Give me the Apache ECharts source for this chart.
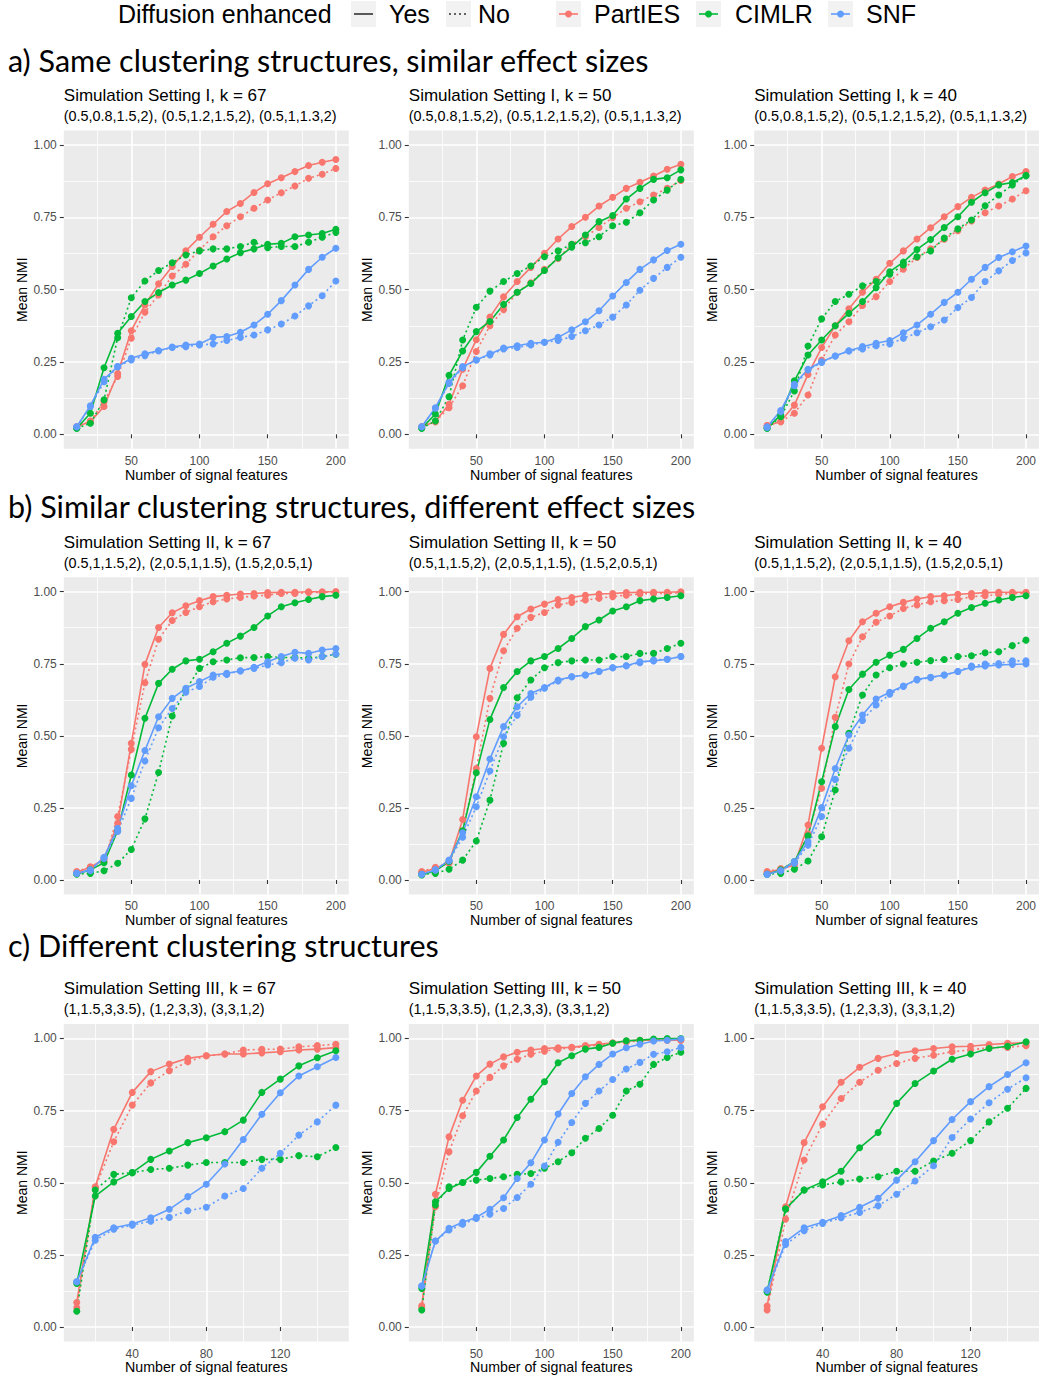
<!DOCTYPE html>
<html><head><meta charset="utf-8">
<script src="https://cdn.jsdelivr.net/npm/echarts@6/dist/echarts.min.js"></script>
<style>html,body{margin:0;padding:0;background:#fff}#c{width:1039px;height:1380px}</style>
</head><body><div id="c"></div>
<script>
// ---------- categories / ticks ----------
const xLong = [10,20,30,40,50,60,70,80,90,100,110,120,130,140,150,160,170,180,190,200];
const xShort = [10,20,30,40,50,60,70,80,90,100,110,120,130,140,150];
const xTicksLong = [50,100,150,200];
const xMinorLong = [25,75,125,175];
const xTicksShort = [40,80,120];
const xMinorShort = [20,60,100,140];
const yTicks = [0,0.25,0.5,0.75,1];
const yMinor = [0.125,0.375,0.625,0.875];
const methods = ['PartIES','CIMLR','SNF'];
const diffusion = ['Yes','No'];

// ---------- titles ----------
const sectionHeadings = ['a) Same clustering structures, similar effect sizes','b) Similar clustering structures, different effect sizes','c) Different clustering structures'];
const panelTitles = ['Simulation Setting I, k = 67','Simulation Setting I, k = 50','Simulation Setting I, k = 40',
  'Simulation Setting II, k = 67','Simulation Setting II, k = 50','Simulation Setting II, k = 40',
  'Simulation Setting III, k = 67','Simulation Setting III, k = 50','Simulation Setting III, k = 40'];
const rowSubtitles = ['(0.5,0.8,1.5,2), (0.5,1.2,1.5,2), (0.5,1,1.3,2)','(0.5,1,1.5,2), (2,0.5,1,1.5), (1.5,2,0.5,1)','(1,1.5,3,3.5), (1,2,3,3), (3,3,1,2)'];

// ---------- Panel 1: Setting I, k = 67 ----------
const p1_PartIES_Yes = [0.026,0.044,0.096,0.21,0.358,0.447,0.52,0.58,0.634,0.681,0.726,0.77,0.798,0.836,0.866,0.887,0.908,0.929,0.94,0.95];
const p1_PartIES_No  = [0.026,0.046,0.113,0.2,0.332,0.422,0.482,0.547,0.588,0.637,0.683,0.721,0.752,0.781,0.81,0.835,0.858,0.885,0.899,0.919];
const p1_CIMLR_Yes   = [0.021,0.073,0.23,0.349,0.407,0.459,0.49,0.516,0.533,0.556,0.582,0.606,0.628,0.641,0.657,0.66,0.683,0.689,0.694,0.709];
const p1_CIMLR_No    = [0.021,0.038,0.119,0.334,0.472,0.53,0.566,0.593,0.62,0.634,0.641,0.641,0.649,0.664,0.645,0.649,0.649,0.664,0.681,0.698];
const p1_SNF_Yes     = [0.026,0.099,0.19,0.234,0.263,0.278,0.289,0.302,0.309,0.312,0.335,0.338,0.353,0.378,0.415,0.462,0.516,0.57,0.612,0.643];
const p1_SNF_No      = [0.026,0.096,0.182,0.234,0.257,0.272,0.289,0.3,0.303,0.309,0.312,0.324,0.335,0.343,0.361,0.381,0.409,0.444,0.479,0.53];
// ---------- Panel 2: Setting I, k = 50 ----------
const p2_PartIES_Yes = [0.026,0.044,0.104,0.225,0.327,0.405,0.475,0.528,0.577,0.626,0.675,0.718,0.75,0.789,0.819,0.85,0.871,0.893,0.916,0.933];
const p2_PartIES_No  = [0.026,0.044,0.092,0.168,0.286,0.375,0.431,0.491,0.524,0.57,0.608,0.657,0.683,0.715,0.749,0.781,0.804,0.827,0.85,0.877];
const p2_CIMLR_Yes   = [0.021,0.07,0.204,0.288,0.355,0.39,0.449,0.491,0.521,0.566,0.61,0.647,0.689,0.735,0.756,0.813,0.85,0.881,0.887,0.914];
const p2_CIMLR_No    = [0.021,0.046,0.13,0.326,0.439,0.495,0.528,0.556,0.582,0.614,0.634,0.657,0.662,0.683,0.721,0.733,0.766,0.81,0.844,0.881];
const p2_SNF_Yes     = [0.026,0.092,0.179,0.234,0.257,0.278,0.298,0.306,0.315,0.318,0.335,0.361,0.389,0.427,0.478,0.525,0.57,0.603,0.635,0.657];
const p2_SNF_No      = [0.026,0.09,0.176,0.23,0.257,0.274,0.295,0.3,0.309,0.318,0.324,0.338,0.358,0.378,0.405,0.447,0.498,0.539,0.577,0.612];
// ---------- Panel 3: Setting I, k = 40 ----------
const p3_PartIES_Yes = [0.03,0.044,0.101,0.207,0.3,0.375,0.434,0.491,0.536,0.591,0.634,0.675,0.714,0.752,0.787,0.819,0.844,0.865,0.891,0.908];
const p3_PartIES_No  = [0.03,0.044,0.073,0.136,0.257,0.343,0.389,0.445,0.476,0.528,0.571,0.611,0.641,0.674,0.704,0.737,0.766,0.789,0.813,0.842];
const p3_CIMLR_Yes   = [0.021,0.067,0.185,0.274,0.326,0.375,0.418,0.459,0.507,0.562,0.595,0.639,0.673,0.715,0.752,0.802,0.835,0.862,0.87,0.894];
const p3_CIMLR_No    = [0.021,0.061,0.15,0.305,0.399,0.459,0.484,0.513,0.528,0.553,0.585,0.614,0.634,0.678,0.71,0.741,0.79,0.827,0.862,0.894];
const p3_SNF_Yes     = [0.026,0.082,0.173,0.225,0.251,0.271,0.289,0.303,0.315,0.324,0.351,0.378,0.415,0.456,0.491,0.536,0.577,0.611,0.631,0.651];
const p3_SNF_No      = [0.024,0.078,0.168,0.222,0.248,0.271,0.288,0.295,0.306,0.312,0.332,0.351,0.372,0.395,0.438,0.473,0.528,0.565,0.601,0.627];
// ---------- Panel 4: Setting II, k = 67 ----------
const p4_PartIES_Yes = [0.027,0.044,0.072,0.197,0.474,0.748,0.876,0.927,0.951,0.969,0.983,0.988,0.992,0.994,0.997,0.998,0.998,1.0,1.0,1.0];
const p4_PartIES_No  = [0.029,0.046,0.064,0.22,0.453,0.684,0.835,0.9,0.928,0.948,0.965,0.975,0.98,0.985,0.988,0.994,0.994,0.997,0.998,1.0];
const p4_CIMLR_Yes   = [0.021,0.035,0.06,0.171,0.364,0.561,0.682,0.731,0.76,0.766,0.792,0.821,0.846,0.876,0.916,0.948,0.962,0.973,0.983,0.988];
const p4_CIMLR_No    = [0.021,0.023,0.032,0.058,0.106,0.212,0.373,0.569,0.659,0.734,0.757,0.763,0.771,0.772,0.775,0.772,0.772,0.769,0.775,0.783];
const p4_SNF_Yes     = [0.023,0.035,0.079,0.179,0.327,0.449,0.566,0.63,0.665,0.688,0.711,0.717,0.725,0.738,0.757,0.775,0.79,0.786,0.798,0.803];
const p4_SNF_No      = [0.023,0.032,0.075,0.168,0.283,0.413,0.528,0.595,0.651,0.671,0.703,0.713,0.726,0.734,0.746,0.754,0.769,0.763,0.775,0.784];
// ---------- Panel 5: Setting II, k = 50 ----------
const p5_PartIES_Yes = [0.027,0.04,0.06,0.21,0.497,0.734,0.852,0.913,0.94,0.957,0.973,0.98,0.988,0.992,0.994,0.997,0.998,0.998,0.998,1.0];
const p5_PartIES_No  = [0.029,0.044,0.058,0.17,0.387,0.63,0.795,0.873,0.911,0.928,0.954,0.963,0.971,0.977,0.983,0.988,0.992,0.994,0.994,0.997];
const p5_CIMLR_Yes   = [0.017,0.032,0.064,0.171,0.372,0.557,0.668,0.723,0.76,0.775,0.803,0.838,0.879,0.902,0.933,0.948,0.969,0.975,0.98,0.986];
const p5_CIMLR_No    = [0.02,0.023,0.037,0.069,0.135,0.277,0.474,0.632,0.694,0.736,0.754,0.76,0.763,0.763,0.775,0.775,0.786,0.786,0.803,0.821];
const p5_SNF_Yes     = [0.02,0.035,0.069,0.164,0.289,0.42,0.532,0.601,0.647,0.668,0.694,0.705,0.711,0.723,0.736,0.743,0.757,0.76,0.766,0.775];
const p5_SNF_No      = [0.02,0.035,0.067,0.148,0.254,0.378,0.497,0.572,0.634,0.665,0.69,0.705,0.711,0.723,0.736,0.743,0.754,0.763,0.766,0.775];
// ---------- Panel 6: Setting II, k = 40 ----------
const p6_PartIES_Yes = [0.027,0.037,0.052,0.191,0.457,0.705,0.83,0.896,0.925,0.948,0.963,0.975,0.983,0.986,0.991,0.994,0.997,0.998,0.998,0.998];
const p6_PartIES_No  = [0.029,0.04,0.058,0.16,0.318,0.564,0.749,0.844,0.894,0.916,0.942,0.954,0.965,0.969,0.973,0.983,0.986,0.991,0.994,0.994];
const p6_CIMLR_Yes   = [0.02,0.035,0.064,0.153,0.341,0.532,0.661,0.714,0.755,0.78,0.8,0.838,0.873,0.896,0.925,0.945,0.96,0.971,0.98,0.986];
const p6_CIMLR_No    = [0.02,0.023,0.037,0.066,0.15,0.312,0.509,0.642,0.711,0.736,0.749,0.755,0.761,0.765,0.775,0.778,0.788,0.792,0.813,0.832];
const p6_SNF_Yes     = [0.02,0.032,0.064,0.133,0.251,0.387,0.503,0.572,0.628,0.651,0.673,0.696,0.703,0.711,0.723,0.738,0.742,0.746,0.748,0.749];
const p6_SNF_No      = [0.02,0.032,0.058,0.121,0.22,0.349,0.457,0.553,0.607,0.644,0.671,0.694,0.702,0.711,0.723,0.742,0.749,0.751,0.76,0.76];
// ---------- Panel 7: Setting III, k = 67 (x 10..150) ----------
const p7_PartIES_Yes = [0.085,0.486,0.685,0.813,0.885,0.911,0.931,0.94,0.946,0.946,0.95,0.954,0.96,0.963,0.968];
const p7_PartIES_No  = [0.067,0.483,0.642,0.769,0.846,0.888,0.919,0.94,0.946,0.96,0.962,0.963,0.971,0.975,0.98];
const p7_CIMLR_Yes   = [0.151,0.454,0.503,0.535,0.581,0.61,0.639,0.656,0.677,0.717,0.813,0.859,0.905,0.933,0.957];
const p7_CIMLR_No    = [0.055,0.475,0.529,0.535,0.546,0.55,0.561,0.57,0.57,0.57,0.581,0.581,0.594,0.59,0.622];
const p7_SNF_Yes     = [0.157,0.311,0.344,0.357,0.379,0.408,0.452,0.495,0.565,0.65,0.737,0.812,0.87,0.902,0.934];
const p7_SNF_No      = [0.157,0.301,0.339,0.353,0.367,0.38,0.403,0.415,0.454,0.48,0.55,0.602,0.665,0.711,0.769];
// ---------- Panel 8: Setting III, k = 50 ----------
const p8_PartIES_Yes = [0.074,0.46,0.659,0.786,0.87,0.911,0.936,0.952,0.96,0.965,0.968,0.969,0.975,0.98,0.985,0.991,0.994,0.994,0.994,0.994];
const p8_PartIES_No  = [0.067,0.417,0.607,0.732,0.818,0.865,0.905,0.928,0.945,0.956,0.963,0.968,0.971,0.977,0.983,0.988,0.992,0.994,0.994,0.994];
const p8_CIMLR_Yes   = [0.134,0.434,0.48,0.501,0.536,0.592,0.648,0.726,0.789,0.85,0.916,0.94,0.963,0.969,0.983,0.992,0.994,0.998,1.0,1.0];
const p8_CIMLR_No    = [0.059,0.423,0.486,0.501,0.509,0.515,0.521,0.529,0.532,0.55,0.573,0.604,0.654,0.688,0.734,0.818,0.841,0.91,0.934,0.952];
const p8_SNF_Yes     = [0.142,0.298,0.342,0.363,0.38,0.408,0.448,0.515,0.569,0.648,0.738,0.809,0.867,0.91,0.946,0.968,0.98,0.991,0.994,0.998];
const p8_SNF_No      = [0.142,0.298,0.336,0.356,0.376,0.391,0.411,0.449,0.495,0.558,0.64,0.709,0.775,0.818,0.858,0.894,0.917,0.945,0.954,0.969];
// ---------- Panel 9: Setting III, k = 40 (x 10..150) ----------
const p9_PartIES_Yes = [0.073,0.417,0.639,0.763,0.848,0.9,0.931,0.948,0.957,0.965,0.971,0.973,0.979,0.983,0.985];
const p9_PartIES_No  = [0.059,0.374,0.579,0.703,0.792,0.848,0.89,0.913,0.931,0.942,0.954,0.96,0.968,0.969,0.975];
const p9_CIMLR_Yes   = [0.122,0.409,0.475,0.503,0.54,0.621,0.674,0.775,0.844,0.887,0.928,0.946,0.965,0.973,0.988];
const p9_CIMLR_No    = [0.122,0.409,0.475,0.492,0.503,0.513,0.521,0.54,0.54,0.575,0.602,0.646,0.711,0.758,0.827];
const p9_SNF_Yes     = [0.128,0.296,0.344,0.363,0.386,0.415,0.446,0.509,0.573,0.646,0.719,0.781,0.833,0.875,0.916];
const p9_SNF_No      = [0.128,0.286,0.334,0.359,0.379,0.397,0.42,0.46,0.506,0.559,0.657,0.721,0.777,0.824,0.864];

// ---------- assemble ----------
const panelData = [
  [p1_PartIES_Yes,p1_PartIES_No,p1_CIMLR_Yes,p1_CIMLR_No,p1_SNF_Yes,p1_SNF_No],
  [p2_PartIES_Yes,p2_PartIES_No,p2_CIMLR_Yes,p2_CIMLR_No,p2_SNF_Yes,p2_SNF_No],
  [p3_PartIES_Yes,p3_PartIES_No,p3_CIMLR_Yes,p3_CIMLR_No,p3_SNF_Yes,p3_SNF_No],
  [p4_PartIES_Yes,p4_PartIES_No,p4_CIMLR_Yes,p4_CIMLR_No,p4_SNF_Yes,p4_SNF_No],
  [p5_PartIES_Yes,p5_PartIES_No,p5_CIMLR_Yes,p5_CIMLR_No,p5_SNF_Yes,p5_SNF_No],
  [p6_PartIES_Yes,p6_PartIES_No,p6_CIMLR_Yes,p6_CIMLR_No,p6_SNF_Yes,p6_SNF_No],
  [p7_PartIES_Yes,p7_PartIES_No,p7_CIMLR_Yes,p7_CIMLR_No,p7_SNF_Yes,p7_SNF_No],
  [p8_PartIES_Yes,p8_PartIES_No,p8_CIMLR_Yes,p8_CIMLR_No,p8_SNF_Yes,p8_SNF_No],
  [p9_PartIES_Yes,p9_PartIES_No,p9_CIMLR_Yes,p9_CIMLR_No,p9_SNF_Yes,p9_SNF_No]
];
const panelX = [xLong,xLong,xLong,xLong,xLong,xLong,xShort,xLong,xShort];

const colors = {PartIES:'#F8766D', CIMLR:'#00BA38', SNF:'#619CFF'};
const FONT = 'Liberation Sans, Arial, Helvetica, sans-serif';
const HFONT = 'Lato, Open Sans, sans-serif';
const colLeft = [63.8, 408.8, 754.2];
const panelW = 285;
const rowTop = [130.5, 577.3, 1024];
const rowH = [318.3, 317.1, 317.5];
const headingY = [60, 506, 945];
const titleY = [95, 542, 988];
const subY = [116, 563, 1009];

const option = {animation:false, grid:[], xAxis:[], yAxis:[], series:[], graphic:[]};
const minorX = [], minorY = [];

panelData.forEach((sets, i) => {
  const r = Math.floor(i/3), c = i%3;
  const xs = panelX[i];
  const isShort = xs === xShort;
  const xmin = isShort ? 3 : 0.5, xmax = isShort ? 157 : 209.5;
  option.grid.push({left:colLeft[c], top:rowTop[r], width:panelW, height:rowH[r], show:true,
    backgroundColor:'#EBEBEB', borderWidth:0});
  option.xAxis.push({type:'value', gridIndex:i, min:xmin, max:xmax, position:'bottom',
    axisLine:{show:false},
    axisTick:{show:true, length:4, lineStyle:{color:'#333333', width:1.1}, customValues:isShort?xTicksShort:xTicksLong},
    axisLabel:{customValues:isShort?xTicksShort:xTicksLong, color:'#4D4D4D', fontSize:12, fontFamily:FONT, margin:6},
    splitLine:{show:true, lineStyle:{color:'#FFFFFF', width:1.6}},
    name:'Number of signal features', nameLocation:'middle', nameGap:17,
    nameTextStyle:{fontSize:14.2, color:'#000', fontFamily:FONT}});
  minorX.push({type:'value', gridIndex:i, min:xmin, max:xmax, position:'top',
    axisLine:{show:false}, axisLabel:{show:false},
    axisTick:{show:false, customValues:isShort?xMinorShort:xMinorLong},
    splitLine:{show:true, lineStyle:{color:'#FFFFFF', width:0.8}}});
  option.yAxis.push({type:'value', gridIndex:i, min:-0.05, max:1.05, position:'left',
    axisLine:{show:false},
    axisTick:{show:true, length:4, lineStyle:{color:'#333333', width:1.1}, customValues:yTicks},
    axisLabel:{customValues:yTicks, color:'#4D4D4D', fontSize:12, fontFamily:FONT, margin:7,
      formatter:v=>v.toFixed(2)},
    splitLine:{show:true, lineStyle:{color:'#FFFFFF', width:1.6}},
    name:'Mean NMI', nameLocation:'middle', nameGap:35, nameRotate:90,
    nameTextStyle:{fontSize:14, color:'#000', fontFamily:FONT}});
  minorY.push({type:'value', gridIndex:i, min:-0.05, max:1.05, position:'right',
    axisLine:{show:false}, axisLabel:{show:false},
    axisTick:{show:false, customValues:yMinor},
    splitLine:{show:true, lineStyle:{color:'#FFFFFF', width:0.8}}});

  methods.forEach((m, mi) => {
    diffusion.forEach((d, di) => {
      const ys = sets[mi*2+di];
      const data = xs.map((x,k)=>[x, ys[k]]);
      option.series.push({type:'line', name:m+' '+d, xAxisIndex:i, yAxisIndex:i, data,
        symbol:'none', silent:true, z:3,
        lineStyle:{color:colors[m], width:1.6, type: d==='Yes'?'solid':[2,3]}});
    });
  });
  methods.forEach((m, mi) => {
    diffusion.forEach((d, di) => {
      const ys = sets[mi*2+di];
      option.series.push({type:'scatter', name:m+' '+d+' pts', xAxisIndex:i, yAxisIndex:i,
        data: xs.map((x,k)=>[x, ys[k]]), symbol:'circle', symbolSize:7, silent:true, z:4,
        itemStyle:{color:colors[m], opacity:1}});
    });
  });

  // panel titles
  option.graphic.push({type:'text', x:colLeft[c], y:titleY[r], silent:true,
    style:{text:panelTitles[i], fontSize:17, fontFamily:FONT, fill:'#000', textAlign:'left', textVerticalAlign:'middle', align:'left', verticalAlign:'middle'}});
  option.graphic.push({type:'text', x:colLeft[c], y:subY[r], silent:true,
    style:{text:rowSubtitles[r], fontSize:14.4, fontFamily:FONT, fill:'#000', textAlign:'left', textVerticalAlign:'middle', align:'left', verticalAlign:'middle'}});
});
option.xAxis = option.xAxis.concat(minorX);
option.yAxis = option.yAxis.concat(minorY);

// section headings
sectionHeadings.forEach((h, r) => {
  option.graphic.push({type:'text', x:8, y:headingY[r], silent:true,
    style:{text:h, fontSize:30.5, fontFamily:HFONT, fill:'#000', textAlign:'left', textVerticalAlign:'middle', align:'left', verticalAlign:'middle'}});
});

// legend
const LY = 14;
function legText(t, x){
  option.graphic.push({type:'text', x, y:LY, silent:true,
    style:{text:t, fontSize:25, fontFamily:FONT, fill:'#000', textAlign:'left', textVerticalAlign:'middle', align:'left', verticalAlign:'middle'}});
}
function legKey(x, color, dash, point){
  option.graphic.push({type:'rect', silent:true, shape:{x, y:1, width:25, height:26}, style:{fill:'#F2F2F2'}});
  option.graphic.push({type:'line', silent:true, shape:{x1:x+3, y1:LY, x2:x+22, y2:LY},
    style:{stroke:color, lineWidth:1.6, lineDash:dash}});
  if (point) option.graphic.push({type:'circle', silent:true, shape:{cx:x+12.5, cy:LY, r:3.5}, style:{fill:color}});
}
legText('Diffusion enhanced', 118);
legKey(351, '#333333', null, false); legText(diffusion[0], 389);
legKey(446, '#333333', [2,3], false); legText(diffusion[1], 478);
legKey(556, colors.PartIES, null, true); legText(methods[0], 594);
legKey(696, colors.CIMLR, null, true); legText(methods[1], 735);
legKey(828, colors.SNF, null, true); legText(methods[2], 866);

const chart = echarts.init(document.getElementById('c'), null, {renderer:'svg'});
chart.setOption(option);
</script></body></html>
